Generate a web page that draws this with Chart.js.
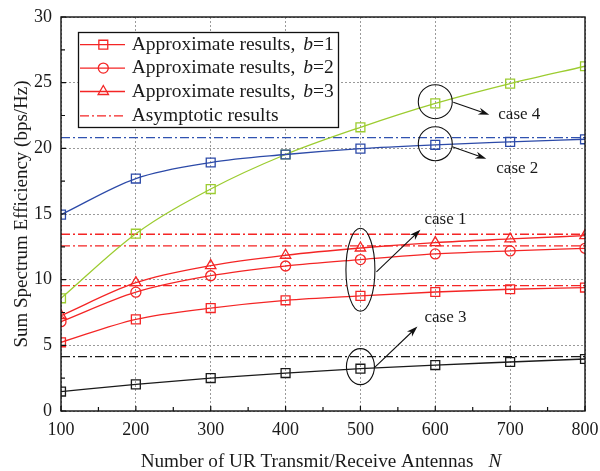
<!DOCTYPE html>
<html>
<head>
<meta charset="utf-8">
<script src="https://cdn.jsdelivr.net/npm/chart.js@4/dist/chart.umd.min.js"></script>
<style>
  html, body { margin: 0; padding: 0; background: #fff; }
  #wrap { width: 600px; height: 471px; }
</style>
</head>
<body>
<div id="wrap"><canvas id="c" width="600" height="471"></canvas></div>
<script>
// Number of UR transmit/receive antennas N
const antennas = [100, 200, 300, 400, 500, 600, 700, 800];

// Sum spectrum efficiency (bps/Hz), approximate results
const case1b1 = [5.23, 6.98, 7.84, 8.43, 8.77, 9.06, 9.27, 9.40];
const case1b2 = [6.80, 9.05, 10.30, 11.04, 11.53, 11.96, 12.19, 12.39];
const case1b3 = [7.26, 9.77, 11.07, 11.86, 12.41, 12.82, 13.10, 13.35];
const case2   = [14.95, 17.70, 18.92, 19.53, 19.98, 20.27, 20.49, 20.69];
const case3   = [1.48, 2.03, 2.51, 2.89, 3.22, 3.50, 3.73, 3.96];
const case4   = [8.58, 13.50, 16.90, 19.53, 21.60, 23.42, 24.93, 26.25];

// Asymptotic levels (bps/Hz)
const asymLevels = [9.55, 12.57, 13.46, 20.82, 4.14];
const asymColors = ['#f42525', '#f42525', '#f42525', '#3052b0', '#1a1a1a'];

// Axis ticks
const xTicks = [100, 200, 300, 400, 500, 600, 700, 800];
const yTicks = [0, 5, 10, 15, 20, 25, 30];

// Legend entries
const legendTexts = ['Approximate results,', 'Approximate results,', 'Approximate results,', 'Asymptotic results'];
const legendBits = ['1', '2', '3', null];

// Case annotations: centre in data units, shape and arrow in pixels
const caseLabels  = ['case 4', 'case 2', 'case 1', 'case 3'];
const caseCentres = [[600, 23.55], [600, 20.35], [500, 10.75], [500, 3.38]];

const RED = '#f42525', BLUE = '#2c4aa8', GREEN = '#9ccc30', BLACK = '#1a1a1a';
const SERIF = '"Liberation Serif", "Times New Roman", serif';

function series(values, color, style, radius) {
  return {
    data: values.map((v, i) => ({ x: antennas[i], y: v })),
    borderColor: color,
    borderWidth: 1.3,
    pointStyle: style,
    pointRadius: radius,
    pointBorderColor: color,
    pointBackgroundColor: 'rgba(0,0,0,0)',
    pointBorderWidth: 1.3,
    cubicInterpolationMode: 'monotone',
    fill: false
  };
}

function asymptote(level, color) {
  return {
    data: [{ x: xTicks[0], y: level }, { x: xTicks[xTicks.length - 1], y: level }],
    borderColor: color,
    borderWidth: 1.3,
    borderDash: [9, 3, 2, 3],
    pointRadius: 0,
    fill: false
  };
}

const datasets = [
  series(case1b1, RED, 'rect', 6.3),
  series(case1b2, RED, 'circle', 5),
  series(case1b3, RED, 'triangle', 6),
  series(case2, BLUE, 'rect', 6.3),
  series(case3, BLACK, 'rect', 6.3),
  series(case4, GREEN, 'rect', 6.3)
].concat(asymLevels.map((l, i) => asymptote(l, asymColors[i])));

// Frame, inward tick marks and axis titles
const frameAndTitles = {
  id: 'frameAndTitles',
  afterDraw(chart) {
    const { ctx, chartArea: a, scales } = chart;
    const xs = scales.x, ys = scales.y;
    ctx.save();
    ctx.strokeStyle = '#111';
    ctx.lineWidth = 1.4;
    ctx.strokeRect(a.left, a.top, a.right - a.left, a.bottom - a.top);

    ctx.lineWidth = 1.2;
    ctx.beginPath();
    const xt = xs.ticks.map(t => t.value);
    xt.forEach((v, i) => {
      const px = xs.getPixelForValue(v);
      ctx.moveTo(px, a.bottom); ctx.lineTo(px, a.bottom - 5);
      if (i < xt.length - 1) {
        const pm = xs.getPixelForValue((v + xt[i + 1]) / 2);
        ctx.moveTo(pm, a.bottom); ctx.lineTo(pm, a.bottom - 4);
      }
    });
    const yt = ys.ticks.map(t => t.value);
    yt.forEach((v, i) => {
      const py = ys.getPixelForValue(v);
      ctx.moveTo(a.left, py); ctx.lineTo(a.left + 5, py);
      if (i < yt.length - 1) {
        const pm = ys.getPixelForValue((v + yt[i + 1]) / 2);
        ctx.moveTo(a.left, pm); ctx.lineTo(a.left + 4, pm);
      }
    });
    ctx.stroke();

    // axis titles
    ctx.fillStyle = '#1a1a1a';
    ctx.textBaseline = 'middle';
    const main = 'Number of UR Transmit/Receive Antennas';
    ctx.font = '19.2px ' + SERIF;
    const w1 = ctx.measureText(main).width + 15;
    ctx.font = 'italic 19.2px ' + SERIF;
    const w2 = ctx.measureText('N').width;
    const cx = (a.left + a.right) / 2 - 2;
    const x0 = cx - (w1 + w2) / 2;
    ctx.font = '19.2px ' + SERIF;
    ctx.textAlign = 'left';
    ctx.fillText(main, x0, 462);
    ctx.font = 'italic 19.2px ' + SERIF;
    ctx.fillText('N', x0 + w1, 462);

    ctx.save();
    ctx.translate(22, (a.top + a.bottom) / 2);
    ctx.rotate(-Math.PI / 2);
    ctx.font = '19px ' + SERIF;
    ctx.textAlign = 'center';
    ctx.fillText('Sum Spectrum Efficiency (bps/Hz)', 0, 0);
    ctx.restore();
    ctx.restore();
  }
};

// Legend box with line + marker samples
const legendBox = {
  id: 'legendBox',
  afterDraw(chart) {
    const { ctx } = chart;
    const bx = 78.5, by = 32.5, bw = 260, bh = 95;
    const rowsY = [44.7, 68.1, 91.5, 115.8];
    ctx.save();
    ctx.fillStyle = '#fff';
    ctx.fillRect(bx, by, bw, bh);
    ctx.strokeStyle = '#111';
    ctx.lineWidth = 1.3;
    ctx.strokeRect(bx, by, bw, bh);

    legendTexts.forEach((txt, i) => {
      const ds = chart.data.datasets[i < 3 ? i : 6];
      const y = rowsY[i];
      ctx.save();
      ctx.strokeStyle = ds.borderColor;
      ctx.lineWidth = 1.3;
      if (i === 3) ctx.setLineDash(ds.borderDash);
      ctx.beginPath();
      ctx.moveTo(80, y); ctx.lineTo(125, y);
      ctx.stroke();
      ctx.setLineDash([]);
      if (i < 3) {
        ctx.fillStyle = 'rgba(0,0,0,0)';
        Chart.helpers.drawPoint(ctx, {
          pointStyle: ds.pointStyle, radius: ds.pointRadius,
          rotation: 0, borderWidth: 1.3
        }, 103.3, y);
      }
      ctx.restore();

      ctx.fillStyle = '#1a1a1a';
      ctx.textBaseline = 'middle';
      ctx.textAlign = 'left';
      ctx.font = '19.5px ' + SERIF;
      let x = 131.7;
      ctx.fillText(txt, x, y);
      if (legendBits[i] !== null) {
        x += ctx.measureText(txt).width + 8;
        ctx.font = 'italic 19.5px ' + SERIF;
        ctx.fillText('b', x, y);
        x += ctx.measureText('b').width;
        ctx.font = '19.5px ' + SERIF;
        ctx.fillText('=' + legendBits[i], x, y);
      }
    });
    ctx.restore();
  }
};

// Ellipses marking each case, with arrows to their labels
const caseMarks = {
  id: 'caseMarks',
  afterDatasetsDraw(chart) {
    const { ctx, scales } = chart;
    const shapes = [
      { rx: 17, ry: 17, a0: [18, 0.5], a1: [54, 13], t: [63, 13] },
      { rx: 17, ry: 17, a0: [17, 3], a1: [51, 15], t: [61, 25] },
      { rx: 14.5, ry: 41.5, a0: [16, 2], a1: [60, -40], t: [64, -50] },
      { rx: 14, ry: 18, a0: [14, 1], a1: [57, -40], t: [64, -49] }
    ];
    ctx.save();
    ctx.strokeStyle = '#111';
    ctx.fillStyle = '#111';
    ctx.lineWidth = 1.1;
    caseLabels.forEach((label, i) => {
      const cx = scales.x.getPixelForValue(caseCentres[i][0]);
      const cy = scales.y.getPixelForValue(caseCentres[i][1]);
      const s = shapes[i];
      ctx.beginPath();
      ctx.ellipse(cx, cy, s.rx, s.ry, 0, 0, Math.PI * 2);
      ctx.stroke();

      const x0 = cx + s.a0[0], y0 = cy + s.a0[1];
      const x1 = cx + s.a1[0], y1 = cy + s.a1[1];
      const ang = Math.atan2(y1 - y0, x1 - x0);
      ctx.beginPath();
      ctx.moveTo(x0, y0);
      ctx.lineTo(x1 - 6 * Math.cos(ang), y1 - 6 * Math.sin(ang));
      ctx.stroke();
      // dart-shaped arrowhead
      const L = 11, W = 3.6;
      const bxp = x1 - L * Math.cos(ang), byp = y1 - L * Math.sin(ang);
      const ix = x1 - 0.7 * L * Math.cos(ang), iy = y1 - 0.7 * L * Math.sin(ang);
      ctx.beginPath();
      ctx.moveTo(x1, y1);
      ctx.lineTo(bxp - W * Math.sin(ang), byp + W * Math.cos(ang));
      ctx.lineTo(ix, iy);
      ctx.lineTo(bxp + W * Math.sin(ang), byp - W * Math.cos(ang));
      ctx.closePath();
      ctx.fill();

      ctx.font = '17px ' + SERIF;
      ctx.textBaseline = 'middle';
      ctx.textAlign = 'left';
      ctx.fillStyle = '#1a1a1a';
      ctx.fillText(label, cx + s.t[0], cy + s.t[1]);
      ctx.fillStyle = '#111';
    });
    ctx.restore();
  }
};

new Chart(document.getElementById('c'), {
  type: 'line',
  data: { datasets },
  options: {
    responsive: false,
    animation: false,
    devicePixelRatio: 1,
    layout: { padding: { top: 17, right: 15, left: 0, bottom: 0 } },
    plugins: { legend: { display: false }, tooltip: { enabled: false } },
    scales: {
      x: {
        type: 'linear',
        min: xTicks[0],
        max: xTicks[xTicks.length - 1],
        afterBuildTicks: s => { s.ticks = xTicks.map(v => ({ value: v })); },
        afterFit: s => { s.height = 60; s.paddingLeft = 0; s.paddingRight = 0; },
        grid: { color: '#9a9a9a', lineWidth: 1, drawTicks: false },
        border: { display: false, dash: [2, 2] },
        ticks: { color: '#1a1a1a', padding: 8, font: { family: SERIF, size: 18 }, maxRotation: 0 }
      },
      y: {
        type: 'linear',
        min: yTicks[0],
        max: yTicks[yTicks.length - 1],
        afterBuildTicks: s => { s.ticks = yTicks.map(v => ({ value: v })); },
        afterFit: s => { s.width = 61; s.paddingTop = 0; s.paddingBottom = 0; },
        grid: { color: '#9a9a9a', lineWidth: 1, drawTicks: false },
        border: { display: false, dash: [2, 2] },
        ticks: { color: '#1a1a1a', padding: 9, font: { family: SERIF, size: 18 } }
      }
    }
  },
  plugins: [caseMarks, frameAndTitles, legendBox]
});
</script>
</body>
</html>
